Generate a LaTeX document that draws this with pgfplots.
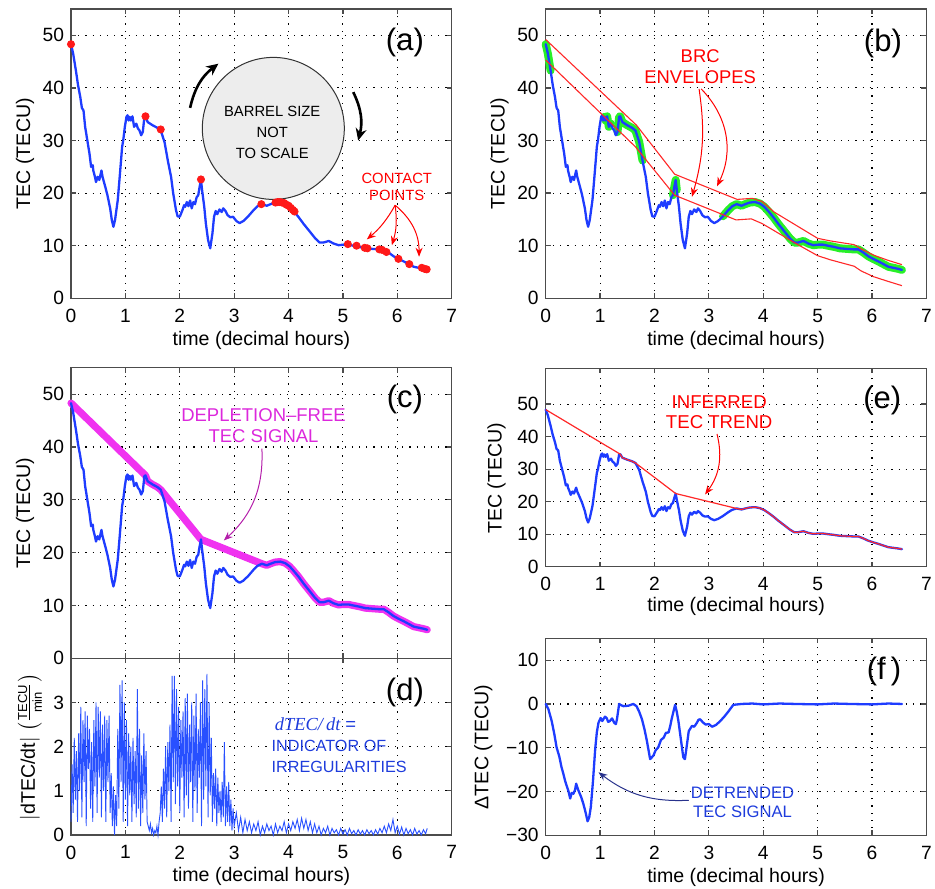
\documentclass[border=0pt]{standalone}
\usepackage{fontspec}
\setmainfont{Liberation Sans}
\newfontfamily\serifit{Liberation Serif}
\usepackage{pgfplots}
\usepackage{pgfplotstable}
\pgfplotsset{compat=1.18}
\usetikzlibrary{arrows.meta}

\definecolor{tecblue}{RGB}{30,60,255}
\definecolor{noiseblue}{RGB}{40,80,255}
\definecolor{envred}{RGB}{255,40,40}
\definecolor{brcgreen}{RGB}{40,240,40}
\definecolor{magline}{RGB}{240,50,240}
\definecolor{magtext}{RGB}{220,40,220}
\definecolor{magarrow}{RGB}{180,30,170}
\definecolor{darkarrow}{RGB}{40,50,140}
\definecolor{txtblue}{RGB}{30,60,220}

\pgfplotstableread{
t v
0.00 48.3
0.04 46.5
0.09 43.3
0.13 40.5
0.17 38.3
0.20 36.2
0.23 35.7
0.26 32.6
0.31 29.4
0.34 27.5
0.37 25.0
0.40 25.3
0.41 24.3
0.44 23.1
0.46 22.1
0.49 23.1
0.52 22.5
0.56 24.3
0.58 23.1
0.63 21.2
0.67 19.6
0.72 17.1
0.75 14.9
0.78 13.6
0.81 14.9
0.86 18.7
0.89 22.4
0.92 26.2
0.94 28.8
0.96 30.0
0.99 32.6
1.02 34.5
1.04 34.8
1.06 33.8
1.08 34.5
1.10 33.8
1.13 34.6
1.16 32.6
1.20 33.2
1.23 32.3
1.26 31.9
1.29 31.0
1.32 31.6
1.35 34.5
1.37 34.6
1.41 33.5
1.50 32.9
1.59 32.4
1.65 31.9
1.72 29.7
1.78 26.2
1.84 23.1
1.88 19.9
1.93 16.8
1.96 15.6
2.00 15.5
2.05 16.8
2.08 17.7
2.10 17.4
2.13 18.3
2.16 17.5
2.19 18.6
2.22 17.1
2.25 18.3
2.28 17.9
2.31 19.2
2.34 19.6
2.36 20.9
2.39 22.5
2.41 20.6
2.45 17.4
2.48 14.2
2.52 11.1
2.56 9.5
2.60 12.3
2.63 15.5
2.66 16.6
2.69 16.0
2.73 16.9
2.77 16.4
2.80 17.1
2.84 16.6
2.88 15.8
2.93 15.4
2.98 15.5
3.04 14.7
3.10 14.3
3.17 14.7
3.26 15.6
3.36 16.8
3.43 17.5
3.51 17.9
3.60 17.6
3.67 17.9
3.75 18.2
3.85 18.3
3.94 18.0
4.02 17.4
4.09 16.6
4.18 15.5
4.28 14.1
4.39 12.7
4.49 11.4
4.57 10.6
4.64 10.6
4.74 10.9
4.83 10.4
4.92 10.1
5.01 10.2
5.10 10.2
5.19 10.0
5.29 9.8
5.41 9.5
5.53 9.4
5.66 9.3
5.75 9.3
5.84 8.7
5.93 8.0
6.02 7.5
6.12 7.0
6.21 6.5
6.30 6.0
6.39 5.8
6.48 5.6
6.55 5.4
}\tec

\pgfplotstableread{
t v
0.00 48.3
1.37 34.6
1.41 33.5
1.50 32.9
1.59 32.4
1.65 31.9
2.39 22.5
3.51 17.9
3.60 17.6
3.67 17.9
3.75 18.2
3.85 18.3
3.94 18.0
4.02 17.4
4.09 16.6
4.18 15.5
4.28 14.1
4.39 12.7
4.49 11.4
4.57 10.6
4.64 10.6
4.74 10.9
4.83 10.4
4.92 10.1
5.01 10.2
5.10 10.2
5.19 10.0
5.29 9.8
5.41 9.5
5.53 9.4
5.66 9.3
5.75 9.3
5.84 8.7
5.93 8.0
6.02 7.5
6.12 7.0
6.21 6.5
6.30 6.0
6.39 5.8
6.48 5.6
6.55 5.4
}\trend

\pgfplotstableread{
t v
0.00 0.0
0.05 -1.2
0.11 -3.9
0.16 -7.0
0.20 -9.9
0.25 -12.0
0.29 -14.4
0.33 -16.2
0.36 -17.7
0.42 -20.0
0.45 -21.6
0.48 -20.3
0.51 -20.5
0.54 -19.6
0.56 -18.2
0.60 -19.7
0.65 -21.2
0.69 -22.7
0.73 -24.6
0.77 -26.8
0.80 -25.9
0.83 -23.5
0.87 -17.5
0.91 -10.3
0.94 -6.5
0.97 -4.3
1.01 -3.2
1.04 -3.9
1.06 -3.5
1.09 -2.9
1.12 -3.2
1.15 -4.1
1.18 -3.9
1.22 -3.3
1.26 -4.3
1.29 -4.6
1.31 -3.5
1.35 0.0
1.39 -0.3
1.43 -0.5
1.52 -0.4
1.61 0.0
1.67 -0.5
1.72 -1.8
1.77 -3.5
1.82 -6.0
1.86 -8.4
1.92 -12.6
1.95 -12.2
1.98 -11.8
2.02 -10.6
2.07 -9.9
2.12 -8.2
2.17 -7.7
2.21 -6.6
2.26 -6.5
2.29 -5.0
2.32 -3.2
2.38 -0.2
2.41 -1.8
2.44 -3.9
2.49 -8.5
2.53 -12.2
2.56 -12.6
2.60 -9.0
2.63 -6.2
2.69 -5.0
2.73 -5.2
2.78 -4.3
2.81 -3.6
2.84 -3.5
2.89 -4.2
2.94 -4.7
3.00 -4.6
3.06 -5.2
3.13 -4.8
3.21 -3.9
3.29 -2.8
3.36 -1.7
3.45 -0.2
3.60 0.0
3.80 0.1
4.00 -0.1
4.30 0.1
4.60 0.0
5.00 -0.1
5.30 0.1
5.60 0.0
6.00 -0.1
6.30 0.1
6.55 0.0
}\detr

\pgfplotsset{
  panel/.style={
    scale only axis, width=190.35pt,
    xmin=0, xmax=7, xtick={0,1,...,7},
    clip=false,
    grid=major,
    major grid style={black, line width=0.55pt, dash pattern=on 0.6pt off 3pt},
    axis line style={black!70, line width=0.7pt},
    tick align=inside, major tick length=2.5pt,
    tick style={black!70, line width=0.6pt},
    /pgf/number format/assume math mode=true,
    tick label style={font=\fontsize{9.6}{11}\selectfont, text=black},
    label style={font=\fontsize{9.8}{11}\selectfont},
    xticklabel style={yshift=-1.8pt},
    xlabel style={at={(axis description cs:0.5,0)}, anchor=center, yshift=-20.85pt},
    ylabel style={anchor=center},
  },
  tecline/.style={tecblue, line width=1.15pt, line join=round, line cap=round},
  fatline/.style={line width=#1, line join=round, line cap=round},
}
\tikzset{panelletter/.style={font=\fontsize{15.5}{17}\selectfont}}

\begin{document}
\begin{tikzpicture}[x=1pt,y=1pt]
\useasboundingbox (0,0) rectangle (467.5,444);

% ---------------- (a)
\begin{axis}[panel, at={(35.5pt,294.85pt)}, anchor=south west, height=144.65pt,
  ymin=0, ymax=55, ytick={0,10,...,50},
  xlabel={time (decimal hours)}, ylabel={TEC (TECU)},
  ylabel style={at={(axis description cs:-0.121,0.5)}}]
\addplot[only marks, mark=*, mark size=1.8pt, color=red!90!white, mark options={fill=red!90!white}] coordinates {
(0,48.3)(1.37,34.6)(1.65,32.1)(2.39,22.6)(3.50,17.9)(3.76,18.2)(3.80,18.3)(3.84,18.3)(3.88,18.2)(3.92,18.1)(3.96,17.8)(4.00,17.6)(4.04,17.2)(4.08,16.8)(4.11,16.5)
(5.09,10.3)(5.25,10.0)(5.40,9.6)(5.45,9.5)(5.67,9.3)(5.72,9.2)(5.80,8.8)(6.02,7.5)(6.22,6.5)(6.45,5.8)(6.50,5.6)(6.54,5.5)};
\addplot[tecline] table[x=t,y=v]{\tec};
\draw[black!80, line width=0.5pt, fill=black!7] (3.72,32.3) circle[radius=35.5pt];
\node[align=center, font=\fontsize{7.4}{10.4}\selectfont] at (3.70,31.5) {BARREL SIZE\\NOT\\TO SCALE};
\draw[black, line width=1.3pt, -{Stealth[length=6pt,width=5.5pt]}] (2.19,36.2) to[bend left=20] (2.71,44.6);
\draw[black, line width=1.3pt, -{Stealth[length=6pt,width=5.5pt]}] (5.19,39.2) to[bend left=20] (5.28,30.0);
\node[align=center, text=red, font=\fontsize{7.4}{8.4}\selectfont] at (5.99,21.2) {CONTACT\\POINTS};
\draw[red, line width=0.5pt, -{Stealth[length=4.5pt,width=3.5pt]}] (5.96,17.7) to[bend left=10] (5.44,11.2);
\draw[red, line width=0.5pt, -{Stealth[length=4.5pt,width=3.5pt]}] (5.96,17.7) to[bend left=12] (5.90,10.1);
\draw[red, line width=0.5pt, -{Stealth[length=4.5pt,width=3.5pt]}] (5.96,17.7) to[bend left=25] (6.40,7.9);
\node[panelletter] at (6.14,48.7) {(a)};
\end{axis}

% ---------------- (b)
\begin{axis}[panel, at={(272.85pt,294.85pt)}, anchor=south west, height=144.65pt,
  ymin=0, ymax=55, ytick={0,10,...,50},
  xlabel={time (decimal hours)}, ylabel={TEC (TECU)},
  ylabel style={at={(axis description cs:-0.121,0.5)}}]
\addplot[brcgreen, fatline=4pt, restrict x to domain=0:0.09] table[x=t,y=v]{\tec};
\addplot[brcgreen, fatline=4pt, restrict x to domain=1.08:1.22] table[x=t,y=v]{\tec};
\addplot[brcgreen, fatline=4pt, restrict x to domain=1.32:1.78] table[x=t,y=v]{\tec};
\addplot[brcgreen, fatline=4pt, restrict x to domain=2.33:2.44] table[x=t,y=v]{\tec};
\addplot[brcgreen, fatline=4pt, restrict x to domain=3.25:6.6] table[x=t,y=v]{\tec};
\addplot[tecline] table[x=t,y=v]{\tec};
\addplot[envred, line width=0.55pt] coordinates {
(0,49.2)(1.67,32.9)(2.37,23.6)(3.52,18.8)(3.80,19.0)(3.98,18.4)(4.20,16.4)(5.00,11.4)(5.24,10.9)(5.67,10.2)(5.80,9.4)(6.03,8.2)(6.30,7.2)(6.55,6.4)};
\addplot[envred, line width=0.55pt] coordinates {
(0,45.3)(1.65,28.8)(2.37,19.6)(3.50,14.9)(3.78,15.1)(3.98,14.2)(4.62,10.3)(5.00,8.1)(5.24,7.3)(5.67,6.1)(5.80,5.2)(6.03,4.1)(6.30,3.2)(6.55,2.4)};
\node[align=center, text=red, font=\fontsize{9.2}{10.35}\selectfont] at (2.84,44.0) {BRC\\ENVELOPES};
\draw[red, line width=0.5pt, -{Stealth[length=4.5pt,width=3.5pt]}] (2.82,39.8) to[bend left=12] (2.69,19.3);
\draw[red, line width=0.5pt, -{Stealth[length=4.5pt,width=3.5pt]}] (2.86,39.8) to[bend left=35] (3.15,21.3);
\node[panelletter] at (6.20,48.4) {(b)};
\end{axis}

% ---------------- (c)
\begin{axis}[panel, at={(35.5pt,114.85pt)}, anchor=south west, height=145.3pt,
  ymin=0, ymax=55, ytick={0,10,...,50}, xticklabels={},
  ylabel={TEC (TECU)},
  ylabel style={at={(axis description cs:-0.121,0.5)}}]
\addplot[magline, fatline=3.6pt] table[x=t,y=v]{\trend};
\addplot[tecline] table[x=t,y=v]{\tec};
\node[align=center, text=magtext, font=\fontsize{9.25}{10.5}\selectfont] at (3.54,44.06) {DEPLETION{\char"2013}FREE\\TEC SIGNAL};
\draw[magarrow, line width=0.5pt, -{Stealth[length=4.5pt,width=3.5pt]}] (3.51,39.7) to[bend left=25] (2.81,22.3);
\node[panelletter] at (6.14,48.9) {(c)};
\end{axis}

% ---------------- (d)
\begin{axis}[panel, at={(35.5pt,26.5pt)}, anchor=south west, height=88.35pt,
  ymin=0, ymax=4, ytick={0,1,2,3},
  xlabel={time (decimal hours)},
  ylabel={$|$dTEC/dt$|$ $\left(\frac{\mbox{\fontsize{6.5}{7}\selectfont TECU}}{\mbox{\fontsize{6.5}{7}\selectfont min}}\right)$},
  ylabel style={at={(axis description cs:-0.108,0.5)}}]
\addplot[noiseblue, line width=0.45pt] coordinates {
(0.00,0.3)(0.02,1.6)(0.04,0.5)(0.06,2.2)(0.08,0.8)(0.10,1.9)(0.12,0.3)(0.14,2.3)(0.16,1.0)(0.18,2.9)
(0.20,0.4)(0.22,2.6)(0.24,1.2)(0.26,2.8)(0.28,0.2)(0.30,2.7)(0.32,1.5)(0.34,2.4)(0.36,0.6)(0.38,2.1)
(0.40,0.3)(0.42,2.6)(0.44,1.1)(0.46,3.0)(0.48,0.5)(0.50,2.9)(0.52,1.3)(0.54,2.8)(0.56,0.4)(0.58,2.5)
(0.60,1.0)(0.62,2.7)(0.64,0.3)(0.66,2.6)(0.68,1.2)(0.70,2.7)(0.72,0.5)(0.74,1.4)(0.76,0.2)(0.78,1.1)
(0.80,0.0)(0.82,0.9)(0.84,0.2)(0.86,2.4)(0.88,0.6)(0.90,3.4)(0.92,1.2)(0.94,3.5)(0.96,0.3)(0.98,3.0)
(1.00,0.8)(1.02,2.6)(1.04,0.2)(1.06,2.3)(1.08,0.9)(1.10,2.0)(1.12,0.3)(1.14,2.2)(1.16,0.7)(1.18,1.9)
(1.20,0.4)(1.22,3.3)(1.24,0.6)(1.26,2.4)(1.28,0.2)(1.30,1.8)(1.32,0.5)(1.34,2.3)(1.36,0.8)(1.38,1.9)
(1.40,0.3)(1.42,0.2)(1.44,0.1)(1.46,0.25)(1.48,0.05)(1.50,0.15)(1.52,0.0)(1.54,0.1)(1.56,0.05)(1.58,0.2)
(1.60,0.0)(1.62,0.3)(1.64,0.5)(1.66,1.1)(1.68,0.3)(1.70,1.5)(1.72,0.6)(1.74,2.0)(1.76,0.4)(1.78,2.1)
(1.80,1.0)(1.82,2.5)(1.84,0.3)(1.86,3.6)(1.88,1.2)(1.90,3.6)(1.92,0.7)(1.94,3.3)(1.96,1.1)(1.98,2.9)
(2.00,0.5)(2.02,2.6)(2.04,1.3)(2.06,2.8)(2.08,0.4)(2.10,3.1)(2.12,0.9)(2.14,3.2)(2.16,0.6)(2.18,2.5)
(2.20,1.2)(2.22,3.0)(2.24,0.3)(2.26,2.7)(2.28,1.0)(2.30,3.2)(2.32,0.5)(2.34,2.4)(2.36,1.3)(2.38,3.0)
(2.40,0.2)(2.42,3.5)(2.44,0.8)(2.46,3.3)(2.48,1.1)(2.50,3.65)(2.52,0.4)(2.54,3.0)(2.56,0.9)(2.58,2.2)
(2.60,0.3)(2.62,1.4)(2.64,0.6)(2.66,1.5)(2.68,0.2)(2.70,1.3)(2.72,0.5)(2.74,1.0)(2.76,0.3)(2.78,1.2)
(2.80,0.4)(2.82,2.1)(2.84,0.2)(2.86,1.1)(2.88,0.3)(2.90,1.2)(2.92,0.2)(2.94,0.8)(2.96,0.1)(2.98,0.6)
(3.00,0.2)(3.04,0.5)(3.08,0.1)(3.12,0.4)(3.16,0.05)(3.20,0.35)(3.24,0.1)(3.28,0.3)(3.32,0.05)(3.36,0.25)
(3.40,0.1)(3.44,0.3)(3.48,0.0)(3.52,0.2)(3.56,0.05)(3.60,0.25)(3.64,0.1)(3.68,0.2)(3.72,0.0)(3.76,0.25)
(3.80,0.05)(3.84,0.2)(3.88,0.1)(3.92,0.3)(3.96,0.05)(4.00,0.25)(4.04,0.1)(4.08,0.3)(4.12,0.15)(4.16,0.35)
(4.20,0.1)(4.24,0.38)(4.28,0.15)(4.32,0.35)(4.36,0.1)(4.40,0.3)(4.44,0.05)(4.48,0.25)(4.52,0.05)(4.56,0.2)
(4.60,0.0)(4.64,0.15)(4.68,0.05)(4.72,0.2)(4.76,0.0)(4.80,0.15)(4.84,0.05)(4.88,0.12)(4.92,0.0)(4.96,0.15)
(5.00,0.02)(5.04,0.12)(5.08,0.0)(5.12,0.15)(5.16,0.03)(5.20,0.1)(5.24,0.0)(5.28,0.12)(5.32,0.02)(5.36,0.1)
(5.40,0.0)(5.44,0.12)(5.48,0.03)(5.52,0.1)(5.56,0.0)(5.60,0.12)(5.64,0.02)(5.68,0.15)(5.72,0.05)(5.76,0.2)
(5.80,0.05)(5.84,0.25)(5.88,0.1)(5.92,0.35)(5.96,0.05)(6.00,0.2)(6.04,0.02)(6.08,0.18)(6.12,0.0)(6.16,0.15)
(6.20,0.03)(6.24,0.12)(6.28,0.0)(6.32,0.15)(6.36,0.02)(6.40,0.1)(6.44,0.0)(6.48,0.12)(6.52,0.03)(6.55,0.15)};
\node[anchor=west, text=txtblue, font=\fontsize{9.2}{10}\selectfont] at (3.62,2.5) {{\serifit\itshape dTEC/\,dt} =};
\node[anchor=west, text=txtblue, font=\fontsize{8.1}{9}\selectfont] at (3.56,2.02) {INDICATOR OF};
\node[anchor=west, text=txtblue, font=\fontsize{8.1}{9}\selectfont] at (3.56,1.55) {IRREGULARITIES};
\node[panelletter] at (6.14,3.22) {(d)};
\end{axis}

% ---------------- (e)
\begin{axis}[panel, at={(272.85pt,160.65pt)}, anchor=south west, height=99.2pt,
  ymin=0, ymax=61, ytick={0,10,...,50},
  xlabel={time (decimal hours)}, ylabel={TEC (TECU)},
  xlabel style={yshift=0.85pt},
  ylabel style={at={(axis description cs:-0.129,0.446)}}]
\addplot[tecline] table[x=t,y=v]{\tec};
\addplot[envred, line width=0.6pt, line join=round] table[x=t,y=v]{\trend};
\node[align=center, text=red, font=\fontsize{9.3}{10.3}\selectfont] at (3.19,47.5) {INFERRED\\TEC TREND};
\draw[red, line width=0.5pt, -{Stealth[length=4.5pt,width=3.5pt]}] (3.15,40.8) to[bend left=25] (2.93,22.2);
\node[panelletter] at (6.19,51.1) {(e)};
\end{axis}

% ---------------- (f)
\begin{axis}[panel, at={(272.85pt,26.35pt)}, anchor=south west, height=98.5pt,
  ymin=-30, ymax=15, ytick={-30,-20,-10,0,10},
  yticklabels={{\char"2212}30,{\char"2212}20,{\char"2212}10,0,10},
  xlabel={time (decimal hours)}, ylabel={{\char"0394}TEC (TECU)},
  ylabel style={at={(axis description cs:-0.164,0.448)}}]
\addplot[tecline] table[x=t,y=v]{\detr};
\node[align=center, text=txtblue, font=\fontsize{8.3}{9.8}\selectfont] at (3.62,-22.5) {DETRENDED\\TEC SIGNAL};
\draw[darkarrow, line width=0.5pt, -{Stealth[length=4.5pt,width=3.5pt]}] (2.63,-22.0) to[bend left=20] (0.97,-15.6);
\node[panelletter] at (6.22,7.4) {(f\,)};
\end{axis}
\end{tikzpicture}
\end{document}
